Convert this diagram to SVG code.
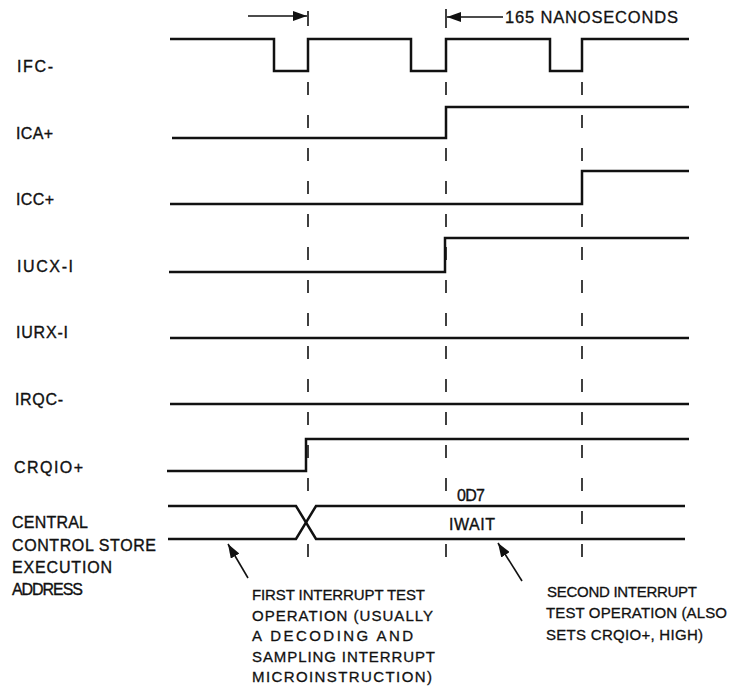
<svg xmlns="http://www.w3.org/2000/svg" width="729" height="689" viewBox="0 0 729 689">
<defs>
<style>
.sig{fill:none;stroke:#111;stroke-width:2.5;stroke-linejoin:miter}
.dash{stroke:#111;stroke-width:1.6;stroke-dasharray:13 20}
.tick{stroke:#111;stroke-width:1.6}
.arr{stroke:#111;stroke-width:1.6;fill:none;marker-end:url(#ah)}
.lbl{font-family:"Liberation Sans",Arial,sans-serif;font-size:16px;fill:#111;stroke:#111;stroke-width:0.35}
.note{font-family:"Liberation Sans",Arial,sans-serif;font-size:15px;fill:#111;stroke:#111;stroke-width:0.3}
.big{font-size:16.5px}
</style>
<marker id="ah" viewBox="0 0 14 10" refX="14" refY="5" markerWidth="14" markerHeight="10" markerUnits="userSpaceOnUse" orient="auto">
<path d="M0,0 L14,5 L0,10 z" fill="#111"/>
</marker>
</defs>
<rect width="729" height="689" fill="#fff"/>

<g id="IFC">
<text class="lbl" x="17" y="72" textLength="36" lengthAdjust="spacing">IFC-</text>
<path class="sig" d="M170,39 H274 V71 H308 V39 H411 V71 H446 V39 H550 V71 H582 V39 H689"/>
</g>
<g id="ICA">
<text class="lbl" x="16" y="139" textLength="37" lengthAdjust="spacing">ICA+</text>
<path class="sig" d="M172,138 H446 V107 H689"/>
</g>
<g id="ICC">
<text class="lbl" x="16" y="205" textLength="38" lengthAdjust="spacing">ICC+</text>
<path class="sig" d="M170,204 H582 V171 H689"/>
</g>
<g id="IUCX">
<text class="lbl" x="17" y="272" textLength="56" lengthAdjust="spacing">IUCX-I</text>
<path class="sig" d="M169,272 H445 V238 H689"/>
</g>
<g id="IURX">
<text class="lbl" x="16" y="338" textLength="52" lengthAdjust="spacing">IURX-I</text>
<path class="sig" d="M170,338 H689"/>
</g>
<g id="IRQC">
<text class="lbl" x="15" y="405" textLength="48" lengthAdjust="spacing">IRQC-</text>
<path class="sig" d="M170,404 H689"/>
</g>
<g id="CRQIO">
<text class="lbl" x="14" y="473" textLength="69" lengthAdjust="spacing">CRQIO+</text>
<path class="sig" d="M167,471 H306 V439 H689"/>
</g>
<g id="CCSEA">
<text class="lbl" x="12" y="528" textLength="76" lengthAdjust="spacing">CENTRAL</text>
<text class="lbl" x="12" y="551" textLength="144" lengthAdjust="spacing">CONTROL STORE</text>
<text class="lbl" x="12" y="573" textLength="100" lengthAdjust="spacing">EXECUTION</text>
<text class="lbl" x="12" y="595" textLength="71" lengthAdjust="spacing">ADDRESS</text>
<path class="sig" d="M168,506 H296 L316,539 H685"/>
<path class="sig" d="M168,539 H296 L316,506 H685"/>
<text class="lbl" x="457" y="501" textLength="28" lengthAdjust="spacing">0D7</text>
<text class="lbl" x="449" y="530" textLength="46" lengthAdjust="spacing">IWAIT</text>
</g>

<g id="notes">
<text class="note big" x="505" y="23" textLength="173" lengthAdjust="spacing">165 NANOSECONDS</text>
<text class="note" x="252" y="600" textLength="173" lengthAdjust="spacing">FIRST INTERRUPT TEST</text>
<text class="note" x="252" y="621" textLength="181" lengthAdjust="spacing">OPERATION (USUALLY</text>
<text class="note" x="252" y="641" textLength="161" lengthAdjust="spacing">A DECODING AND</text>
<text class="note" x="252" y="662" textLength="183" lengthAdjust="spacing">SAMPLING INTERRUPT</text>
<text class="note" x="252" y="682" textLength="180" lengthAdjust="spacing">MICROINSTRUCTION)</text>
<text class="note" x="547" y="597" textLength="150" lengthAdjust="spacing">SECOND INTERRUPT</text>
<text class="note" x="546" y="618" textLength="181" lengthAdjust="spacing">TEST OPERATION (ALSO</text>
<text class="note" x="546" y="640" textLength="157" lengthAdjust="spacing">SETS CRQIO+, HIGH)</text>
</g>

<g id="connectors">
<line class="dash" x1="308" y1="82" x2="308" y2="491"/>
<line class="tick" x1="308" y1="544" x2="308" y2="557"/>
<line class="dash" x1="446" y1="82" x2="446" y2="491"/>
<line class="tick" x1="446" y1="544" x2="446" y2="557"/>
<line class="dash" x1="582" y1="82" x2="582" y2="557"/>
<line class="tick" x1="308" y1="11" x2="308" y2="26"/>
<line class="tick" x1="446" y1="9" x2="446" y2="28"/>
<line class="arr" x1="248" y1="16" x2="307" y2="16"/>
<line class="arr" x1="503" y1="17" x2="447" y2="17"/>
<line class="arr" x1="248" y1="578" x2="228" y2="544"/>
<line class="arr" x1="522" y1="581" x2="498" y2="543"/>
</g>
</svg>
